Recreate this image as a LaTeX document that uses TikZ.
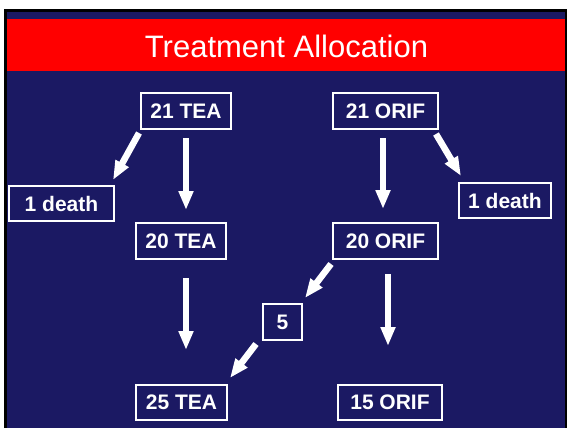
\documentclass[tikz,border=0pt]{standalone}
\usepackage{fontspec}
\setmainfont{Liberation Sans}
\usetikzlibrary{arrows.meta}
\definecolor{navybg}{RGB}{27,25,99}
\definecolor{titlered}{RGB}{255,0,0}
\tikzset{
  countbox/.style={draw=white, line width=2pt, text=white, inner sep=0pt,
    font=\fontsize{21}{25}\bfseries\selectfont, align=center},
  blockarrow/.style={draw=white, line width=6.5pt,
    -{Triangle[width=14pt,length=19pt]}}
}
\begin{document}
\begin{tikzpicture}[x=1pt,y=-1pt]
\useasboundingbox (0,0) rectangle (567,428);
\fill[white] (0,0) rectangle (567,428);
\fill[black] (4,9) rectangle (566.5,428);
\fill[navybg] (7,12) rectangle (564.5,428);
\fill[titlered] (7,19) rectangle (564.5,71);
\node[anchor=base, text=white, font=\fontsize{31}{37}\selectfont, inner sep=0pt] (title) at (286.5,57) {Treatment Allocation};

\node[countbox, minimum width=90pt, minimum height=36pt] (t21) at (186,111) {21 TEA};
\node[countbox, minimum width=105pt, minimum height=35pt] (d1) at (61.5,203.5) {1 death};
\node[countbox, minimum width=90pt, minimum height=36pt] (t20) at (181,241) {20 TEA};
\node[countbox, minimum width=105pt, minimum height=36pt] (o21) at (385.5,111) {21 ORIF};
\node[countbox, minimum width=92pt, minimum height=35pt] (d2) at (505,200.5) {1 death};
\node[countbox, minimum width=105pt, minimum height=36pt] (o20) at (385.5,241) {20 ORIF};
\node[countbox, minimum width=39pt, minimum height=36pt] (n5) at (282.5,322) {5};
\node[countbox, minimum width=91pt, minimum height=35pt] (t25) at (181.5,402.5) {25 TEA};
\node[countbox, minimum width=104pt, minimum height=35pt] (o15) at (390,402.5) {15 ORIF};

\draw[blockarrow] ([shift={(-1,3)}]t21.south west) -- ([shift={(-2,-5)}]d1.north east);
\draw[blockarrow] ([shift={(0,8)}]t21.south) -- ([shift={(5,-12)}]t20.north);
\draw[blockarrow] ([shift={(-2.5,8)}]o21.south) -- ([shift={(-2.5,-13)}]o20.north);
\draw[blockarrow] ([shift={(-3,4)}]o21.south east) -- ([shift={(3,-6)}]d2.north west);
\draw[blockarrow] ([shift={(5,18)}]t20.south) -- ([shift={(4.5,-34)}]t25.north);
\draw[blockarrow] ([shift={(-1,4)}]o20.south west) -- ([shift={(2,-5)}]n5.north east);
\draw[blockarrow] ([shift={(2.5,14)}]o20.south) -- ([shift={(-2,-38)}]o15.north);
\draw[blockarrow] ([shift={(-6,3)}]n5.south west) -- ([shift={(2,-6)}]t25.north east);
\end{tikzpicture}
\end{document}
